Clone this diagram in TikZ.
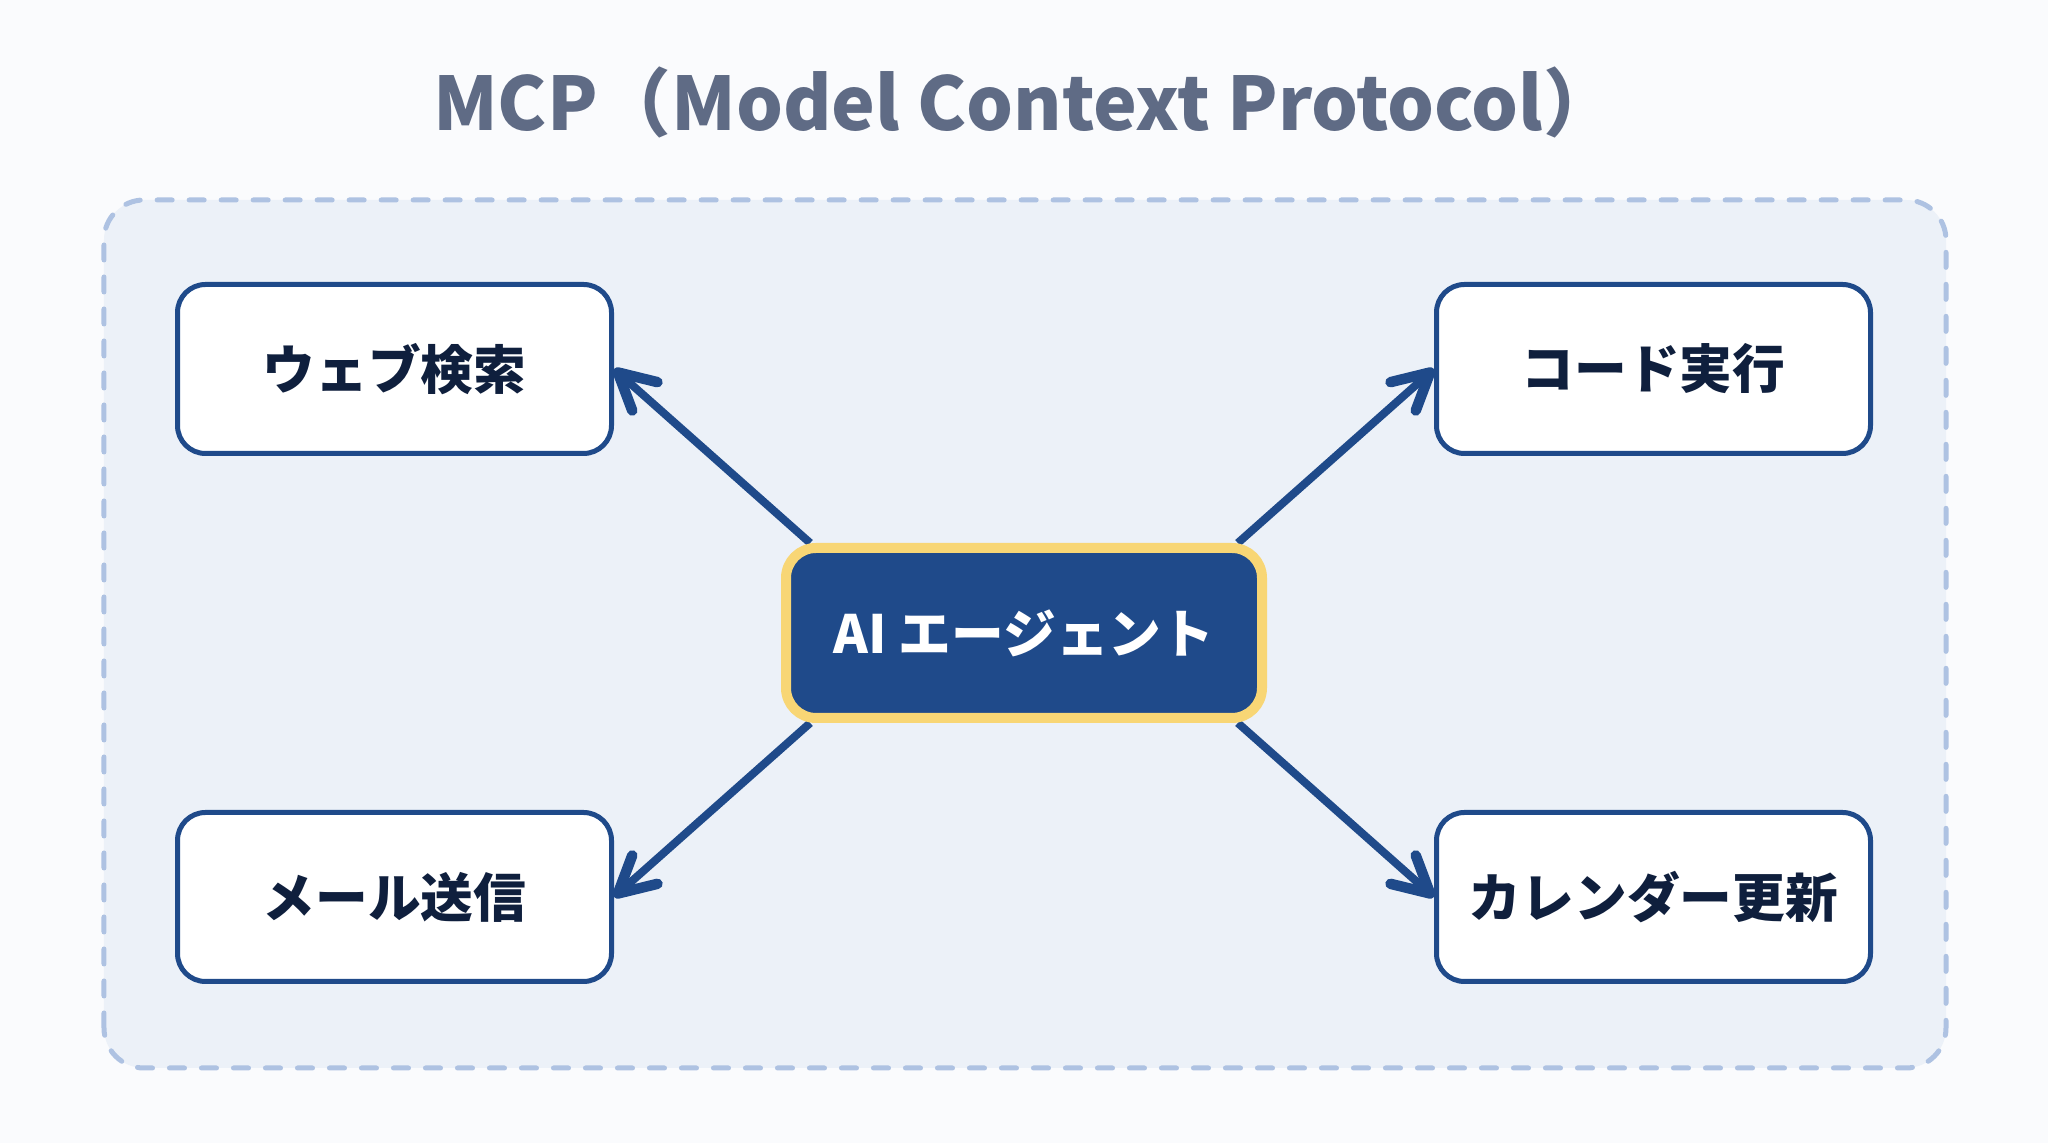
\documentclass[tikz,border=0pt]{standalone}
\usepackage{fontspec}
\setmainfont{Noto Sans CJK JP}
\usetikzlibrary{arrows.meta,positioning,backgrounds,calc}
\definecolor{mcpNavy}{HTML}{1F4A8A}
\definecolor{mcpInk}{HTML}{0F1F3D}
\definecolor{mcpGold}{HTML}{F8D675}
\definecolor{mcpPanel}{HTML}{ECF1F8}
\definecolor{mcpDash}{HTML}{AEC2E2}
\definecolor{mcpTitle}{HTML}{5F6B85}
\definecolor{mcpPaper}{HTML}{FAFBFD}

\begin{document}
\begin{tikzpicture}[every node/.style={font=\fontsize{15}{18}\selectfont\bfseries}]
      \tikzstyle{tool}=[draw=mcpNavy,fill=white,line width=0.5mm,rounded corners=2.8mm,
                        minimum width=43.4mm,minimum height=16.9mm,text=mcpInk]
      \tikzstyle{agent}=[draw=mcpGold,fill=mcpNavy,line width=1mm,rounded corners=3mm,
                         minimum width=47.6mm,minimum height=17mm,text=white]
      \tikzstyle{link}=[line width=0.8mm,mcpNavy,
                        -{Straight Barb[round,length=3.6mm,width=3.8mm,line width=1.05mm]}]

      \useasboundingbox (0,0) rectangle (20.48,11.43);

      \node[font=\fontsize{21}{26}\selectfont\bfseries,text=mcpTitle] (title) at (10.25,10.41)
            {MCP（Model Context Protocol）};

      \node[agent] (ai) at (10.24,5.10) {AI エージェント};
      \node[tool,above left=8.7mm and 16.7mm of ai] (web) {ウェブ検索};
      \node[tool,above right=8.7mm and 16.7mm of ai] (code) {コード実行};
      \node[tool,below left=8.7mm and 16.7mm of ai] (mail) {メール送信};
      \node[tool,below right=8.7mm and 16.7mm of ai] (cal) {カレンダー更新};

      \begin{scope}[on background layer]
        \fill[mcpPaper] (0,0) rectangle (20.48,11.43);
        \draw[mcpDash,fill=mcpPanel,line width=0.5mm,dash pattern=on 1.5mm off 1.7mm,
              line cap=round,rounded corners=4mm] (1.04,0.75) rectangle (19.46,9.43);
        \draw[link] ($(ai.north west)!0.06!(ai.north east)$) -- (web.east);
        \draw[link] ($(ai.north east)!0.06!(ai.north west)$) -- (code.west);
        \draw[link] ($(ai.south west)!0.06!(ai.south east)$) -- (mail.east);
        \draw[link] ($(ai.south east)!0.06!(ai.south west)$) -- (cal.west);
      \end{scope}
    \end{tikzpicture}
\end{document}
